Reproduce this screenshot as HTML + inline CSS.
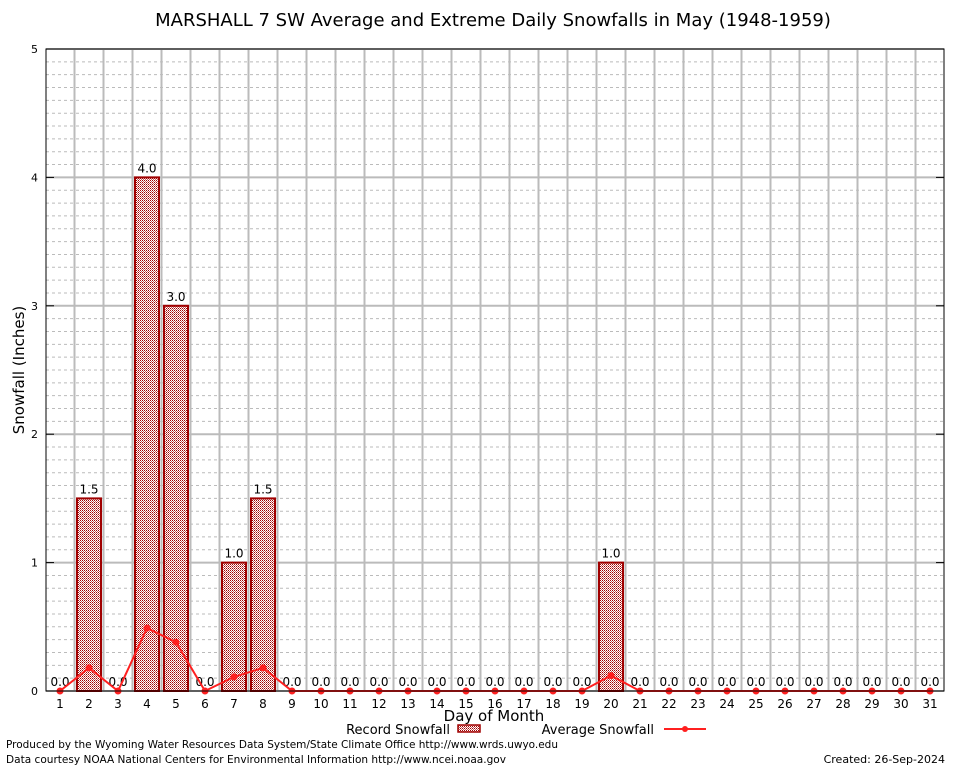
<!DOCTYPE html>
<html><head><meta charset="utf-8"><style>
body{margin:0;background:#fff}
svg text{font-family:"DejaVu Sans","Liberation Sans",sans-serif}
</style></head><body>
<svg id="chart" width="954" height="768" xmlns="http://www.w3.org/2000/svg">
<defs>
<pattern id="hatch" width="2" height="2" patternUnits="userSpaceOnUse">
<rect width="2" height="2" fill="#ffffff"/>
<rect width="1" height="1" fill="#a00000"/><rect x="1" y="1" width="1" height="1" fill="#c86060"/>
</pattern>
</defs>
<rect width="954" height="768" fill="#fff"/>
<text x="493" y="26" font-size="18" text-anchor="middle">MARSHALL 7 SW Average and Extreme Daily Snowfalls in May (1948-1959)</text>
<g id="grid"></g>
<g id="bars"></g>
<g id="line"></g>
<g id="axes"></g>
<text x="24" y="370" font-size="15" text-anchor="middle" transform="rotate(-90 24 370)">Snowfall (Inches)</text>
<text x="494" y="721" font-size="15" text-anchor="middle">Day of Month</text>
<g>
<text x="450" y="734" font-size="13" text-anchor="end">Record Snowfall</text>
<rect x="458" y="725" width="22" height="7" fill="url(#hatch)" stroke="#a00000" stroke-width="1.5"/>
<text x="654" y="734" font-size="13" text-anchor="end">Average Snowfall</text>
<line x1="664" y1="729" x2="706" y2="729" stroke="#ff2020" stroke-width="2"/>
<circle cx="685" cy="729" r="3" fill="#ff2020"/>
</g>
<text x="6" y="748" font-size="11" textLength="552" lengthAdjust="spacingAndGlyphs">Produced by the Wyoming Water Resources Data System/State Climate Office http://www.wrds.uwyo.edu</text>
<text x="6" y="763" font-size="11" textLength="500" lengthAdjust="spacingAndGlyphs">Data courtesy NOAA National Centers for Environmental Information http://www.ncei.noaa.gov</text>
<text x="945" y="763" font-size="11" text-anchor="end">Created: 26-Sep-2024</text>
</svg>
<script>
const days = [1,2,3,4,5,6,7,8,9,10,11,12,13,14,15,16,17,18,19,20,21,22,23,24,25,26,27,28,29,30,31];
const recordSnow = [0,1.5,0,4.0,3.0,0,1.0,1.5,0,0,0,0,0,0,0,0,0,0,0,1.0,0,0,0,0,0,0,0,0,0,0,0];
const avgSnow = [0,0.18,0,0.49,0.38,0,0.11,0.18,0,0,0,0,0,0,0,0,0,0,0,0.12,0,0,0,0,0,0,0,0,0,0,0];
const yTicks = [0,1,2,3,4,5];
const NS="http://www.w3.org/2000/svg";
const L=46,R=944,T=49,B=691,yMax=5;
const x=d=>60+(d-1)*29;
const y=v=>B-(v/yMax)*(B-T);
function mk(tag,attrs,parent){const e=document.createElementNS(NS,tag);for(const k in attrs)e.setAttribute(k,attrs[k]);parent.appendChild(e);return e;}
const grid=document.getElementById('grid'),bars=document.getElementById('bars'),line=document.getElementById('line'),axes=document.getElementById('axes');
for(let v=0.1;v<yMax;v+=0.1){
  const r=Math.round(v*10)/10; if(Math.abs(r-Math.round(r))<1e-6)continue;
  const g=mk('line',{x1:L,x2:R,y1:y(r),y2:y(r),stroke:'#bbb','stroke-dasharray':'3,3','stroke-width':1},grid);
  
  
}
yTicks.forEach(t=>{
  const g=mk('line',{x1:L,x2:R,y1:y(t),y2:y(t),stroke:'#bbb','stroke-width':2},grid);
  
  
  const tl=mk('text',{x:L-8,y:y(t)+4,'font-size':11,'text-anchor':'end'},axes);tl.textContent=t;
  
  
  mk('line',{x1:L,x2:L+8,y1:y(t),y2:y(t),stroke:'#000'},axes);
  mk('line',{x1:R,x2:R-8,y1:y(t),y2:y(t),stroke:'#000'},axes);
});
days.forEach((d,i)=>{
  if(i<days.length-1){const g=mk('line',{x1:x(d)+14.5,x2:x(d)+14.5,y1:T,y2:B,stroke:'#bbb','stroke-width':2},grid);
  
  }
  const v=recordSnow[i];
  if(v>0){const b=mk('rect',{x:x(d)-12,y:y(v),width:24,height:B-y(v),fill:'url(#hatch)',stroke:'#a00000','stroke-width':2},bars);
  
  }
  const lb=mk('text',{x:x(d),y:y(v)-5,'font-size':12,'text-anchor':'middle'},bars);lb.textContent=v.toFixed(1);
  
  
  const xl=mk('text',{x:x(d),y:B+17,'font-size':12,'text-anchor':'middle','font-family':'Liberation Serif,serif'},axes);xl.textContent=d;
  
  
});
const pl=mk('polyline',{points:days.map((d,i)=>x(d)+','+y(avgSnow[i])).join(' '),fill:'none',stroke:'#ff2020','stroke-width':2},line);


days.forEach((d,i)=>{const c=mk('circle',{cx:x(d),cy:y(avgSnow[i]),r:3.5,fill:'#ff2020'},line);
  
  });
const fr=mk('rect',{x:L,y:T,width:R-L,height:B-T,fill:'none',stroke:'#000','stroke-width':1},axes);


</script>
</body></html>
